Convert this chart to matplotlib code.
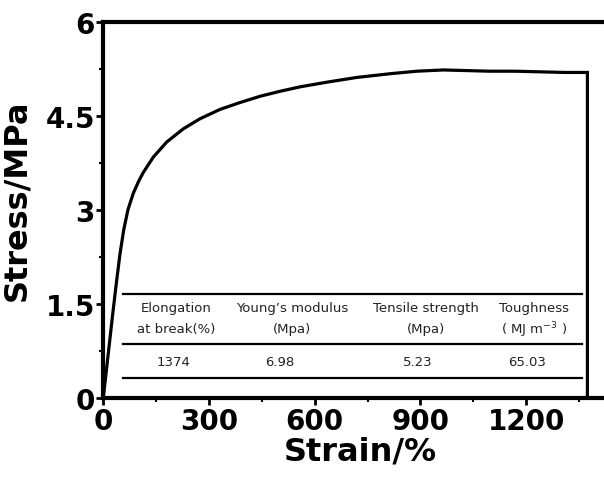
import numpy as np
import matplotlib.pyplot as plt
from matplotlib.ticker import MultipleLocator

# stress-strain curve
strain = [0, 14, 26, 36, 47, 58, 70, 85, 100, 113, 142, 180, 227, 274, 331, 388, 445,
          502, 558, 640, 719, 814, 890, 965, 1030, 1098, 1170, 1240, 1310, 1374, 1374]
stress = [0, 0.70, 1.30, 1.78, 2.28, 2.68, 3.00, 3.26, 3.45, 3.59, 3.84, 4.08, 4.29, 4.45, 4.60, 4.71, 4.81,
          4.89, 4.96, 5.04, 5.11, 5.17, 5.21, 5.23, 5.22, 5.21, 5.21, 5.20, 5.19, 5.19, 0]

x_ticks = [0, 300, 600, 900, 1200]
y_ticks = [0, 1.5, 3, 4.5, 6]
y_tick_labels = ["0", "1.5", "3", "4.5", "6"]

header_top = ["Elongation", "Young\u2019s modulus", "Tensile strength", "Toughness"]
header_bottom = ["at break(%)", "(Mpa)", "(Mpa)", "( MJ m$^{-3}$ )"]
table_values = ["1374", "6.98", "5.23", "65.03"]

W, H = 604, 481
fig = plt.figure(figsize=(W / 100, H / 100), dpi=100)
fig.patch.set_facecolor("white")

ax = fig.add_axes([103.3 / W, 1 - 398.7 / H, 528.5 / W, 376 / H])
ax.plot(strain, stress, color="black", lw=2.3, solid_joinstyle="miter")
ax.set_xlim(0, 1500)
ax.set_ylim(0, 6)

ax.set_xticks(x_ticks)
ax.set_yticks(y_ticks)
ax.set_yticklabels(y_tick_labels)
ax.xaxis.set_minor_locator(MultipleLocator(150))
ax.yaxis.set_minor_locator(MultipleLocator(0.75))
ax.tick_params(which="major", direction="out", length=5, width=2, labelsize=20)
ax.tick_params(which="minor", direction="out", length=3, width=1.5)
ax.tick_params(axis="x", pad=2)
ax.tick_params(axis="y", pad=1)
for lab in ax.get_xticklabels() + ax.get_yticklabels():
    lab.set_fontweight("bold")

for s in ax.spines.values():
    s.set_linewidth(3)
ax.spines["right"].set_visible(False)

ax.set_xlabel("Strain/%", fontsize=23, fontweight="bold")
ax.set_ylabel("Stress/MPa", fontsize=23, fontweight="bold")
ax.xaxis.set_label_coords(0.486, -0.10)
ax.yaxis.set_label_coords(-0.135, 0.528)


def fx(px):
    return px / W


def fy(py):
    return 1 - py / H


# table drawn in figure coordinates
for py in [295, 345, 379]:
    fig.add_artist(plt.Line2D([fx(123), fx(582)], [fy(py), fy(py)],
                              color="black", lw=1.6, transform=fig.transFigure))

col_x = [176, 292, 426, 534]
val_x = [173, 280, 418, 527]
for i in range(4):
    fig.text(fx(col_x[i]), fy(309), header_top[i], ha="center", va="center",
             fontsize=9.5, color="#222222")
    fig.text(fx(col_x[i]), fy(330), header_bottom[i], ha="center", va="center",
             fontsize=9.5, color="#222222")
    fig.text(fx(val_x[i]), fy(363), table_values[i], ha="center",
             va="center", fontsize=9.5, color="#222222")

fig.savefig("out.png", dpi=100)
